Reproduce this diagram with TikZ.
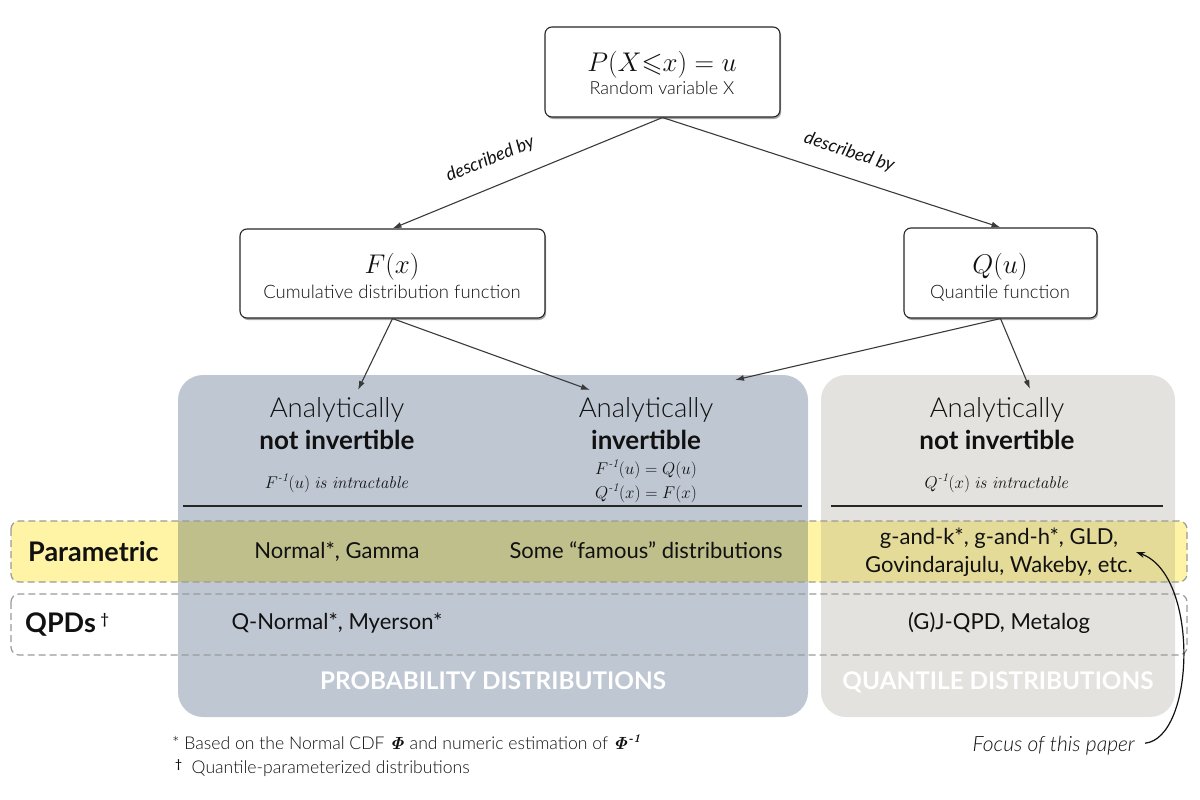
\RequirePackage{fix-cm}
\documentclass[tikz,border=0pt]{standalone}
\usepackage{amssymb}
\usepackage[no-math]{fontspec}
\setmainfont{Lato}
\newfontfamily\lightfont{Lato Light}
\newfontfamily\lmfont{Latin Modern Roman}
\usetikzlibrary{shadows,arrows.meta}
\newcommand{\supinv}[1][12]{\hbox{\lmfont\itshape\fontsize{#1}{#1}\selectfont -1}}
\newcommand{\supinvbold}[1][12]{\hbox{\lmfont\bfseries\itshape\fontsize{#1}{#1}\selectfont -1}}
\definecolor{probblue}{HTML}{BFC7D3}
\definecolor{quantgrey}{HTML}{E3E2DE}
\definecolor{bandyellow}{HTML}{FFF4A6}
\definecolor{bandolive}{HTML}{BFBF8C}
\definecolor{bandkhaki}{HTML}{E5DB98}
\definecolor{dashgrey}{HTML}{9A9A9A}
\definecolor{arrowgrey}{HTML}{3A3A3A}
\definecolor{inkc}{HTML}{111111}
\tikzset{
  wbox/.style={draw=black!85, line width=1.1pt, rounded corners=7pt, fill=white, inner sep=0pt,
    drop shadow={shadow xshift=1.2pt, shadow yshift=-2pt, opacity=0.35, fill=black}},
  panel/.style={rounded corners=25pt, inner sep=0pt},
  conn/.style={draw=arrowgrey, line width=1.1pt, -{Latex[length=9pt,width=6pt]}},
  curvearrow/.style={draw=inkc, line width=1.2pt, -{Stealth[length=9pt,width=6pt]}},
  bandborder/.style={draw=dashgrey, line width=1.2pt, dash pattern=on 7pt off 4pt, rounded corners=8pt},
  rulestyle/.style={draw=black!85, line width=1.5pt},
  txt/.style={anchor=base, inner sep=0pt, text=inkc},
  fs/.style={font=\fontsize{#1}{#1}\selectfont},
  lfs/.style={font=\lightfont\fontsize{#1}{#1}\selectfont},
  lbl/.style={inner sep=0pt, text=inkc, font=\itshape\fontsize{18}{18}\selectfont},
}
\begin{document}
\begin{tikzpicture}[x=1pt,y=-1pt]
\useasboundingbox (0,0) rectangle (1200,800);

% panels
\node[panel, fill=probblue, minimum width=630pt, minimum height=342pt] (prob) at (493,546) {};
\node[panel, fill=quantgrey, minimum width=354pt, minimum height=342pt] (quant) at (998,546) {};

% parametric band
\fill[bandyellow, rounded corners=8pt] (11,521) rectangle (1187,582);
\fill[bandolive] (178,521) rectangle (808,582);
\fill[bandkhaki] (821,521) rectangle (1175,582);
\draw[bandborder] (11,521) rectangle (1187,582);
\draw[bandborder] (11,594) rectangle (1187,655);

% rules
\draw[rulestyle] (183,506) -- (802,506);
\draw[rulestyle] (831,506) -- (1163,506);

% top boxes
\node[wbox, minimum width=235pt, minimum height=90pt] (top) at (662.5,72) {};
\node[txt, fs=27] (topm) at (662,72) {$P(X{\leqslant}x)=u$};
\node[txt, lfs=18] (tops) at (662,95) {Random variable X};

\node[wbox, minimum width=305pt, minimum height=89pt] (F) at (392.5,273.5) {};
\node[txt, fs=27] (Fm) at (392,273) {$F(x)$};
\node[txt, lfs=18.5] (Fs) at (392,298) {Cumulative distribution function};

\node[wbox, minimum width=193pt, minimum height=90pt] (Q) at (1000.5,273) {};
\node[txt, fs=27] (Qm) at (1000,273) {$Q(u)$};
\node[txt, lfs=18.5] (Qs) at (1000,298) {Quantile function};

% headers
\node[txt, lfs=27.5] (h1a) at (337,417) {Analytically};
\node[txt, fs=26] (h1b) at (337,449) {\bfseries not invertible};
\node[txt, fs=17] (h1c) at (337,488) {$F^{\supinv}(u)\ \mathit{is\ intractable}$};

\node[txt, lfs=27.5] (h2a) at (646,417) {Analytically};
\node[txt, fs=26] (h2b) at (646,449) {\bfseries invertible};
\node[txt, fs=17] (h2c) at (646,474) {$F^{\supinv}(u)=Q(u)$};
\node[txt, fs=17] (h2d) at (646,498) {$Q^{\supinv}(x)=F(x)$};

\node[txt, lfs=27.5] (h3a) at (997,417) {Analytically};
\node[txt, fs=26] (h3b) at (997,449) {\bfseries not invertible};
\node[txt, fs=17] (h3c) at (997,488) {$Q^{\supinv}(x)\ \mathit{is\ intractable}$};

% rows
\node[txt, fs=27, anchor=base west] (param) at (28,561) {\bfseries Parametric};
\node[txt, fs=27, anchor=base west] (qpds) at (25,632) {\bfseries QPDs\,\raisebox{8pt}{\lightfont\fontsize{15}{15}\selectfont †}};

\node[txt, fs=22] (r1a) at (337,558) {Normal*, Gamma};
\node[txt, fs=22] (r1b) at (646,558) {Some “famous” distributions};
\node[txt, fs=22] (r1c) at (999,544) {g-and-k*, g-and-h*, GLD,};
\node[txt, fs=22] (r1d) at (999,572) {Govindarajulu, Wakeby, etc.};

\node[txt, fs=22] (r2a) at (337,629) {Q-Normal*, Myerson*};
\node[txt, fs=22] (r2c) at (999,629) {(G)J-QPD, Metalog};

% panel titles
\node[txt, fs=24.3, text=white] (ptitle) at (493,689) {\bfseries PROBABILITY DISTRIBUTIONS};
\node[txt, fs=24.3, text=white] (qtitle) at (998,689) {\bfseries QUANTILE DISTRIBUTIONS};

% footnotes
\node[txt, lfs=17.6, anchor=base west] (fn1) at (172,749) {* Based on the Normal CDF {\boldmath$\mathit{\Phi}$} and numeric estimation of {\boldmath$\mathit{\Phi}^{\supinvbold}$}};
\node[txt, lfs=17.6, anchor=base west] (fn2) at (175,773) {\raisebox{5pt}{\bfseries\fontsize{12}{12}\selectfont †}\ \ Quantile-parameterized distributions};

\node[txt, font=\lightfont\itshape\fontsize{21}{21}\selectfont, anchor=base east] (focus) at (1135,751) {Focus of this paper};

% connectors
\coordinate (a1) at (358,390);
\coordinate (a2) at (590,390);
\coordinate (a3) at (735,380);
\coordinate (a4) at (1030,389);
\coordinate (gk) at (1136,552);

\draw[conn] (top.south) -- node[lbl, pos=0.6, sloped, above=18pt] (d1) {described by} (F.north);
\draw[conn] (top.south) -- node[lbl, pos=0.53, sloped, above=16pt] (d2) {described by} (Q.north);
\draw[conn] (F.south) -- (a1);
\draw[conn] (F.south) -- (a2);
\draw[conn] (Q.south) -- (a3);
\draw[conn] (Q.south) -- (a4);
\draw[curvearrow] ([xshift=10pt,yshift=2pt]focus.east) .. controls (1195,738) and (1200,575) .. (gk);
\end{tikzpicture}
\end{document}
